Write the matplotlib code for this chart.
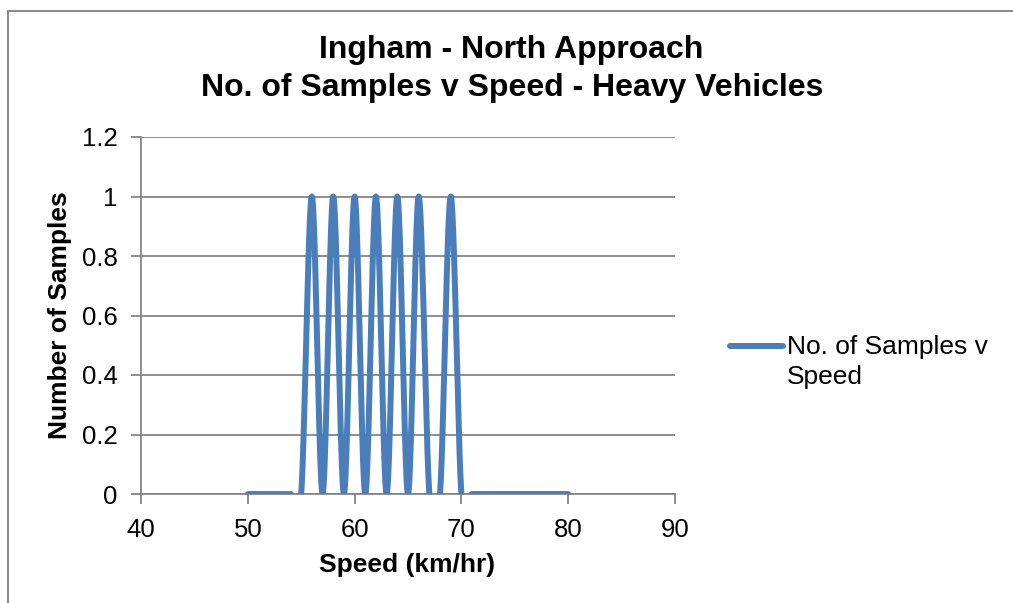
import numpy as np
import matplotlib.pyplot as plt
from matplotlib.lines import Line2D

# speed (km/hr) and number of samples
speed = [50, 51, 52, 53, 54, 55, 56, 57, 58, 59, 60, 61, 62, 63, 64, 65,
         66, 67, 68, 69, 70, 71, 72, 73, 74, 75, 76, 77, 78, 79, 80]
samples = [0, 0, 0, 0, 0, 0, 1, 0, 1, 0, 1, 0, 1, 0, 1, 0,
           1, 0, 0, 1, 0, 0, 0, 0, 0, 0, 0, 0, 0, 0, 0]

x_ticks = [40, 50, 60, 70, 80, 90]
y_ticks = [0, 0.2, 0.4, 0.6, 0.8, 1.0, 1.2]
y_labels = ["0", "0.2", "0.4", "0.6", "0.8", "1", "1.2"]

BLUE = "#4A7EBB"
GRID = "#868686"
FONT = "Liberation Sans"


def smooth_line(xs, ys, n=40):
    """Excel-like smoothed line: cubic Bezier with Catmull-Rom control points."""
    p = np.column_stack([xs, ys]).astype(float)
    out = []
    t = np.linspace(0, 1, n)[:, None]
    for i in range(len(p) - 1):
        p0 = p[i - 1] if i > 0 else p[i]
        p1, p2 = p[i], p[i + 1]
        p3 = p[i + 2] if i + 2 < len(p) else p[i + 1]
        c1 = p1 + (p2 - p0) / 6.0
        c2 = p2 - (p3 - p1) / 6.0
        seg = ((1 - t) ** 3) * p1 + 3 * ((1 - t) ** 2) * t * c1 \
            + 3 * (1 - t) * t ** 2 * c2 + t ** 3 * p2
        out.append(seg if i == 0 else seg[1:])
    pts = np.vstack(out)
    return pts[:, 0], pts[:, 1]


W, H = 1013, 603
fig = plt.figure(figsize=(W / 100, H / 100), dpi=100)
fig.patch.set_facecolor("white")

# chart border
fig.add_artist(plt.Rectangle((8 / W, -0.05), 1.1, (H - 11) / H + 0.05,
                             transform=fig.transFigure, fill=False,
                             edgecolor="#8c8c8c", linewidth=1.5))

left, right, top, bottom = 141, 675, 137, 494
ax = fig.add_axes([left / W, (H - bottom) / H, (right - left) / W, (bottom - top) / H])

sx, sy = smooth_line(speed, samples)
ax.plot(sx, sy, color=BLUE, linewidth=4.3, solid_capstyle="round", zorder=3)

ax.set_xlim(40, 90)
ax.set_ylim(0, 1.2)
ax.set_xticks(x_ticks)
ax.set_yticks(y_ticks)
ax.set_yticklabels(y_labels)
ax.yaxis.grid(True, color=GRID, linewidth=1.3)
ax.set_axisbelow(True)

for s in ["top", "right"]:
    ax.spines[s].set_visible(False)
for s in ["left", "bottom"]:
    ax.spines[s].set_color(GRID)
    ax.spines[s].set_linewidth(1.3)
ax.tick_params(axis="both", direction="out", length=7, width=1.3, color=GRID,
               labelsize=18.5, pad=10)
for lbl in ax.get_xticklabels() + ax.get_yticklabels():
    lbl.set_fontfamily(FONT)

# axis titles
fig.text(407 / W, 1 - 565 / H, "Speed (km/hr)", ha="center", va="center",
         fontsize=19, fontweight="bold", family=FONT)
fig.text(60 / W, 1 - 315 / H, "Number of Samples", ha="center", va="center",
         rotation=90, fontsize=19, fontweight="bold", family=FONT)

fig.text(511 / W, 1 - 50 / H, "Ingham - North Approach", ha="center", va="center",
         fontsize=23, fontweight="bold", family=FONT)
fig.text(512 / W, 1 - 88 / H, "No. of Samples v Speed - Heavy Vehicles", ha="center",
         va="center", fontsize=23, fontweight="bold", family=FONT)

# legend
fig.add_artist(Line2D([730 / W, 783 / W], [1 - 346 / H, 1 - 346 / H], color=BLUE,
                      linewidth=4.3, solid_capstyle="round", transform=fig.transFigure))
fig.text(787 / W, 1 - 347 / H, "No. of Samples v", ha="left", va="center",
         fontsize=19, family=FONT)
fig.text(787 / W, 1 - 377 / H, "Speed", ha="left", va="center",
         fontsize=19, family=FONT)

fig.savefig("out.png", dpi=100, facecolor="white")
